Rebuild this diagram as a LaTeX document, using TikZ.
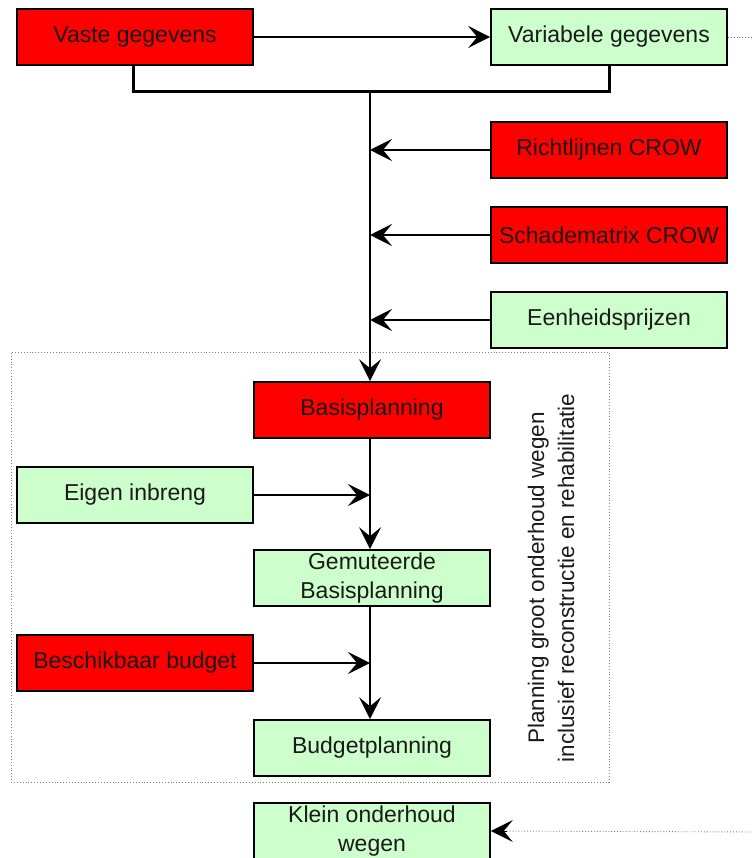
\documentclass[tikz,border=0pt]{standalone}
\usepackage{fontspec}
\setmainfont{Liberation Sans}
\usetikzlibrary{arrows.meta}
\definecolor{boxred}{HTML}{FF0000}
\definecolor{boxgreen}{HTML}{CCFFCC}
\definecolor{txt}{HTML}{1A1A1A}
\begin{document}
\begin{tikzpicture}[x=1pt,y=-1pt,
  box/.style={draw=black, line width=1.6pt, minimum width=236pt, minimum height=56pt,
    inner sep=0pt, align=center, text=txt, font=\fontsize{23}{29}\selectfont},
  redbox/.style={box, fill=boxred},
  greenbox/.style={box, fill=boxgreen},
  tip/.style={-{Stealth[length=22pt,width=22pt,inset=9pt]}},
  arr/.style={line width=1.8pt, tip},
  dotline/.style={draw=gray, line width=0.9pt, dotted}
]
\useasboundingbox (0,0) rectangle (753,858);
\begin{scope}
\clip (0,0) rectangle (753,858);
% group frame
\node[dotline, minimum width=598pt, minimum height=430pt, inner sep=0pt] (group) at (310,567) {};
\node[rotate=90, align=center, text=txt, font=\fontsize{22.5}{30}\selectfont] (grouplabel) at (551,578)
  {Planning groot onderhoud wegen\\inclusief reconstructie en rehabilitatie};

\node[redbox] (vaste) at (135,37) {Vaste gegevens};
\node[greenbox] (variabele) at (609,37) {Variabele gegevens};
\node[redbox] (richt) at (609,150) {Richtlijnen CROW};
\node[redbox] (schade) at (609,235) {Schadematrix CROW};
\node[greenbox] (eenheid) at (609,320) {Eenheidsprijzen};
\node[redbox] (basis) at (372,410) {Basisplanning};
\node[greenbox] (eigen) at (135,495) {Eigen inbreng};
\node[greenbox] (gemut) at (372,578) {Gemuteerde\\Basisplanning};
\node[redbox] (budget) at (135,663) {Beschikbaar budget};
\node[greenbox] (budgetpl) at (372,748) {Budgetplanning};
\node[greenbox] (klein) at (372,831) {Klein onderhoud\\wegen};

\coordinate (join) at (370,92);
\coordinate (varout) at (760,37);
\coordinate (kleinin) at (760,832);
\coordinate (m1) at (370,150);
\coordinate (m2) at (370,235);
\coordinate (m3) at (370,320);
\coordinate (m4) at (370,495);
\coordinate (m5) at (370,663);

% top arrow
\draw[arr] (vaste.east) -- (variabele.west);
\draw[dotline] (variabele.east) -- (varout);
% bracket
\draw[line width=3pt] (vaste.south -| 133,0) |- (join) -| (variabele.south);
% main spine
\draw[arr] (join) -- (basis.north -| join);
\draw[arr] (basis.south -| join) -- (gemut.north -| join);
\draw[arr] (gemut.south -| join) -- (budgetpl.north -| join);
% side inputs
\draw[arr] (richt.west) -- (m1);
\draw[arr] (schade.west) -- (m2);
\draw[arr] (eenheid.west) -- (m3);
\draw[arr] (eigen.east) -- (m4);
\draw[arr] (budget.east) -- (m5);
% dotted input to klein
\draw[dotline, shorten >=14pt] (kleinin) -- (klein.east);
\path[draw=black, line width=1pt, tip] ([xshift=16pt]klein.east) -- (klein.east);
\end{scope}
\end{tikzpicture}
\end{document}
